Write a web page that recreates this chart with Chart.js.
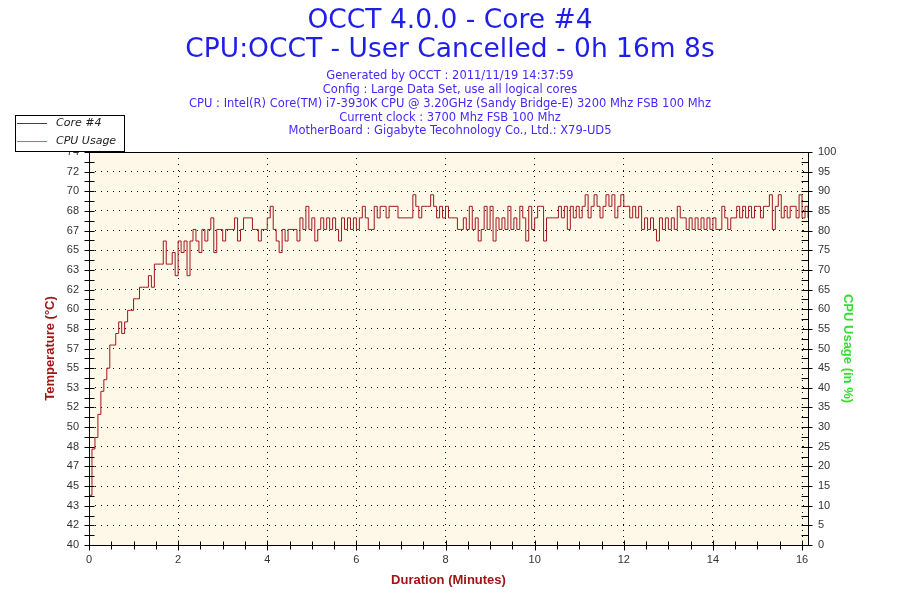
<!DOCTYPE html>
<html>
<head>
<meta charset="utf-8">
<title>OCCT 4.0.0 - Core #4</title>
<script src="https://cdn.jsdelivr.net/npm/chart.js@4.4.1/dist/chart.umd.min.js"></script>
<style>
  html, body { margin: 0; padding: 0; background: #fff; }
</style>
</head>
<body>
<canvas id="grafico" width="900" height="600"></canvas>
<script>
// textos de cabecera
const titulo = ["OCCT 4.0.0 - Core #4", "CPU:OCCT - User Cancelled - 0h 16m 8s"];
const subtitulo = [
  "Generated by OCCT : 2011/11/19 14:37:59",
  "Config : Large Data Set, use all logical cores",
  "CPU : Intel(R) Core(TM) i7-3930K CPU @ 3.20GHz (Sandy Bridge-E) 3200 Mhz FSB 100 Mhz",
  "Current clock : 3700 Mhz FSB 100 Mhz",
  "MotherBoard : Gigabyte Tecohnology Co., Ltd.: X79-UD5"
];

// una muestra cada 4 s
const segundosMuestra = 4;
const coreTemp = [
  44, 48, 49, 51, 53, 54, 55, 57, 57, 58,
  59, 58, 59, 60, 60, 61, 61, 62, 62, 62,
  63, 62, 64, 64, 64, 66, 64, 64, 65, 63,
  66, 65, 66, 63, 66, 67, 66, 65, 67, 66,
  67, 68, 65, 67, 67, 66, 67, 67, 67, 68,
  66, 67, 68, 68, 68, 67, 67, 66, 67, 67,
  68, 69, 67, 66, 65, 67, 66, 67, 67, 67,
  66, 68, 67, 69, 67, 68, 66, 67, 68, 67,
  68, 67, 68, 67, 66, 68, 67, 68, 67, 68,
  67, 68, 69, 68, 67, 67, 69, 68, 69, 69,
  68, 69, 69, 69, 68, 68, 68, 68, 68, 70,
  69, 68, 69, 69, 69, 70, 69, 68, 69, 68,
  69, 68, 68, 68, 67, 67, 68, 67, 69, 67,
  68, 66, 67, 69, 67, 69, 66, 68, 67, 68,
  67, 69, 67, 68, 67, 69, 68, 66, 69, 67,
  68, 69, 69, 66, 68, 68, 68, 68, 69, 68,
  69, 67, 69, 68, 69, 68, 69, 70, 68, 69,
  70, 69, 68, 69, 70, 69, 70, 68, 69, 70,
  69, 69, 68, 69, 68, 69, 67, 68, 67, 68,
  67, 66, 68, 67, 68, 67, 68, 67, 69, 68,
  68, 67, 68, 67, 68, 67, 68, 67, 68, 67,
  68, 67, 67, 69, 68, 67, 68, 68, 69, 68,
  69, 68, 69, 68, 69, 69, 68, 69, 69, 70,
  67, 69, 70, 68, 69, 68, 69, 69, 68, 70,
  68, 69, 68
];
const cpuMinutos = [0, 16.13];
const cpuUso = [100, 100];

const etiquetasTemp = ["40", "42", "43", "45", "47", "48", "50", "52", "53", "55", "57",
  "58", "60", "62", "63", "65", "67", "68", "70", "72", "74"];
const etiquetasUso = [0, 5, 10, 15, 20, 25, 30, 35, 40, 45, 50, 55, 60, 65, 70, 75, 80, 85, 90, 95, 100];
const etiquetasMin = [0, 2, 4, 6, 8, 10, 12, 14, 16];

const tempMin = 39.7;
const tempMax = 73.7;
const duracionMin = 968 / 60;

const rojo = "#a3161c";
const verde = "#00dd00";
const fondo = "#fdf8e8";
const fuenteEjes = "Liberation Sans";

function marcas(ctx, scale, valores, eje, fijo, antes, despues) {
  valores.forEach((v) => {
    const p = Math.round(scale.getPixelForValue(v)) + 0.5;
    ctx.beginPath();
    if (eje === "x") {
      ctx.moveTo(p, fijo - antes);
      ctx.lineTo(p, fijo + despues);
    } else {
      ctx.moveTo(fijo - antes, p);
      ctx.lineTo(fijo + despues, p);
    }
    ctx.stroke();
  });
}

function medios(valores) {
  let r = [];
  for (let i = 0; i < valores.length - 1; i++) r.push((valores[i] + valores[i + 1]) / 2);
  return r;
}

const estiloOCCT = {
  id: "estiloOCCT",
  beforeDraw(chart) {
    const { ctx, chartArea: a } = chart;
    ctx.save();
    ctx.fillStyle = "#ffffff";
    ctx.fillRect(0, 0, chart.width, chart.height);
    ctx.fillStyle = fondo;
    ctx.fillRect(a.left, a.top, a.right - a.left, a.bottom - a.top);
    ctx.restore();
  },
  afterDatasetsDraw(chart) {
    const { ctx, chartArea: a, scales } = chart;
    const l = Math.round(a.left) + 0.5, r = Math.round(a.right) + 0.5;
    const t = Math.round(a.top) + 0.5, b = Math.round(a.bottom) + 0.5;
    ctx.save();
    ctx.strokeStyle = "#000";
    ctx.lineWidth = 1;
    ctx.strokeRect(l, t, r - l, b - t);

    const yt = scales.yTemp.ticks.map((k) => k.value);
    marcas(ctx, scales.yTemp, yt, "y", l, 5, 5);
    marcas(ctx, scales.yTemp, medios(yt), "y", l, 5, 5);

    const yu = scales.yUso.ticks.map((k) => k.value);
    marcas(ctx, scales.yUso, yu, "y", r, 7, 4);
    marcas(ctx, scales.yUso, medios(yu), "y", r, 7, 0);

    const xt = scales.x.ticks.map((k) => k.value);
    let xm = [];
    xt.forEach((v) => [0.5, 1, 1.5].forEach((d) => { if (v + d < duracionMin) xm.push(v + d); }));
    marcas(ctx, scales.x, xt, "x", b, 5, 5);
    marcas(ctx, scales.x, xm, "x", b, 4, 4);
    ctx.restore();
  },
  afterDraw(chart) {
    const ctx = chart.ctx;
    ctx.save();
    ctx.textAlign = "center";
    ctx.textBaseline = "middle";
    ctx.fillStyle = "#1e1ee8";
    ctx.font = "26.5px 'DejaVu Sans'";
    ctx.fillText(titulo[0], 450, 21);
    ctx.fillText(titulo[1], 450, 50);
    ctx.fillStyle = "#4628ff";
    ctx.font = "11.5px 'DejaVu Sans'";
    [76, 90, 104, 118, 131].forEach((y, i) => ctx.fillText(subtitulo[i], 450, y));

    // leyenda
    ctx.fillStyle = "#ffffff";
    ctx.fillRect(15.5, 115.5, 109, 36);
    ctx.strokeStyle = "#000";
    ctx.lineWidth = 1;
    ctx.strokeRect(15.5, 115.5, 109, 36);
    ctx.textAlign = "left";
    ctx.font = "italic 11px 'DejaVu Sans'";
    chart.data.datasets.forEach((ds, i) => {
      const y = 123.5 + i * 18;
      ctx.strokeStyle = ds.borderColor;
      ctx.beginPath();
      ctx.moveTo(17, y);
      ctx.lineTo(47, y);
      ctx.stroke();
      ctx.fillStyle = "#222";
      ctx.fillText(ds.label, 56, y);
    });
    ctx.restore();
  }
};

new Chart(document.getElementById("grafico"), {
  type: "line",
  data: {
    datasets: [
      {
        label: "Core #4",
        data: coreTemp.map((v, i) => ({ x: (i * segundosMuestra) / 60, y: v })),
        borderColor: rojo,
        borderWidth: 1,
        pointRadius: 0,
        stepped: true,
        yAxisID: "yTemp",
      },
      {
        label: "CPU Usage",
        data: cpuUso.map((v, i) => ({ x: cpuMinutos[i], y: v })),
        borderColor: verde,
        borderWidth: 1,
        pointRadius: 0,
        clip: 0,
        yAxisID: "yUso",
      },
    ],
  },
  options: {
    responsive: false,
    animation: false,
    layout: { padding: { top: 152, left: 0, right: 0, bottom: 0 } },
    plugins: {
      legend: { display: false },
      title: { display: false },
      tooltip: { enabled: false },
    },
    scales: {
      x: {
        type: "linear",
        min: 0,
        max: duracionMin,
        afterBuildTicks: (s) => { s.ticks = etiquetasMin.map((v) => ({ value: v })); },
        afterFit: (s) => { s.height = 55; },
        ticks: {
          autoSkip: false,
          maxRotation: 0,
          padding: 8,
          color: "#333",
          font: { family: fuenteEjes, size: 11 },
        },
        grid: { color: "#000", lineWidth: 1, drawTicks: false },
        border: { display: false, dash: [1, 5] },
        title: {
          display: true,
          text: "Duration (Minutes)",
          color: "#a01515",
          font: { family: fuenteEjes, size: 13, weight: "bold" },
          padding: { top: 0, bottom: 12.2 },
        },
      },
      yTemp: {
        type: "linear",
        position: "left",
        min: tempMin,
        max: tempMax,
        afterBuildTicks: (s) => {
          s.ticks = etiquetasTemp.map((t, i) => ({ value: tempMin + (i * (tempMax - tempMin)) / 20 }));
        },
        afterFit: (s) => { s.width = 89; },
        ticks: {
          autoSkip: false,
          padding: 10,
          color: "#333",
          font: { family: fuenteEjes, size: 11 },
          callback: (v, i) => etiquetasTemp[i],
        },
        grid: { color: "#000", lineWidth: 1, drawTicks: false },
        border: { display: false, dash: [1, 5] },
        title: {
          display: true,
          text: "Temperature (°C)",
          color: "#a01515",
          font: { family: fuenteEjes, size: 13, weight: "bold" },
          padding: { top: 42.2, bottom: 0 },
        },
      },
      yUso: {
        type: "linear",
        position: "right",
        min: 0,
        max: 100,
        afterBuildTicks: (s) => { s.ticks = etiquetasUso.map((v) => ({ value: v })); },
        afterFit: (s) => { s.width = 92; },
        ticks: {
          autoSkip: false,
          padding: 10,
          color: "#333",
          font: { family: fuenteEjes, size: 11 },
          callback: (v, i) => String(etiquetasUso[i]),
        },
        grid: { display: false, drawTicks: false },
        border: { display: false },
        title: {
          display: true,
          text: "CPU Usage (in %)",
          color: "#33dd33",
          font: { family: fuenteEjes, size: 13, weight: "bold" },
          padding: { top: 44.2, bottom: 0 },
        },
      },
    },
  },
  plugins: [estiloOCCT],
});
</script>
</body>
</html>
